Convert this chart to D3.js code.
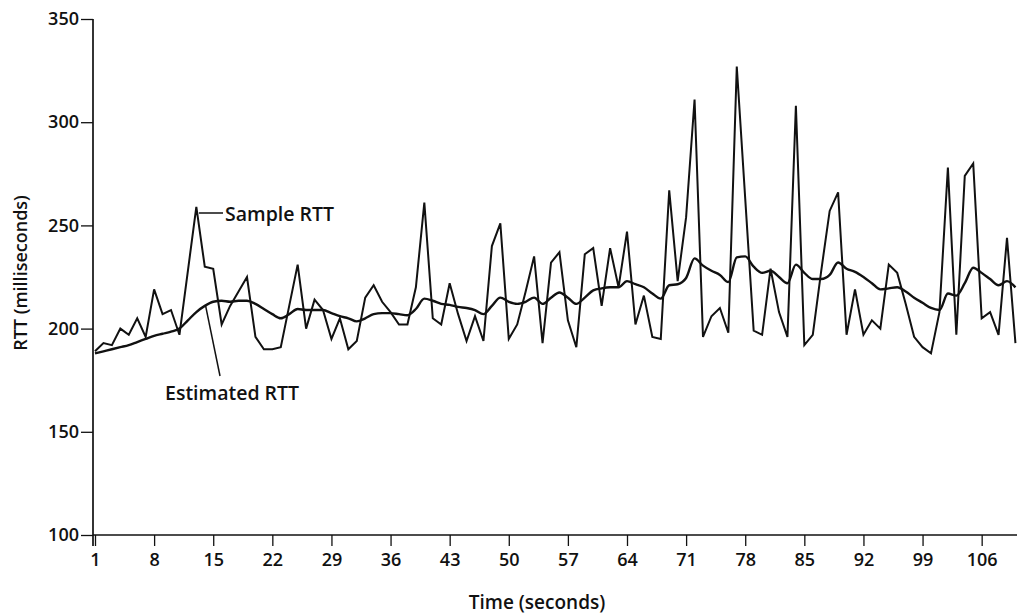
<!DOCTYPE html>
<html>
<head>
<meta charset="utf-8">
<script src="https://cdn.jsdelivr.net/npm/d3@7"></script>
<style>
  html, body { margin: 0; padding: 0; background: #fff; }
  svg text { font-family: "Open Sans", "DejaVu Sans", sans-serif; fill: #111; }
</style>
</head>
<body>
<svg id="chart" width="1017" height="614"></svg>
<script>
// Sample RTT (ms), one reading per second starting at t = 1
const sampleRTT = [
  189, 193, 192, 200, 197, 205, 196, 219, 207, 209,
  197, 228, 259, 230, 229, 202, 211, 218, 225, 196,
  190, 190, 191, 211, 231, 200, 214, 209, 195, 205,
  190, 194, 215, 221, 213, 208, 202, 202, 220, 261,
  205, 202, 222, 207, 194, 206, 194, 240, 251, 195,
  202, 218, 235, 193, 232, 237, 204, 191, 236, 239,
  211, 239, 220, 247, 202, 216, 196, 195, 267, 223,
  254, 311, 196, 206, 210, 198, 327, 263, 199, 197,
  229, 208, 196, 308, 192, 197, 228, 257, 266, 197,
  219, 197, 204, 200, 231, 227, 212, 196, 191, 188,
  208, 278, 197, 274, 280, 205, 208, 197, 244, 193
];
// Estimated RTT (ms), read at the same seconds
const estimatedRTT = [
  188, 189, 190, 191, 192, 193.5, 195, 196.5, 197.5, 198.5,
  200, 204, 208, 211, 213, 213.5, 213, 213.5, 213.5, 212,
  209.5, 207, 205, 207, 209.5, 209, 209, 209, 207.5, 206,
  205, 203.5, 205, 207, 207.5, 207.5, 207, 206.5, 209.5, 214.5,
  213.5, 212, 211.5, 210.5, 210, 209, 207, 211, 215, 213,
  212, 213, 215, 212, 215, 217.5, 215, 212, 215, 218.5,
  219.5, 220, 220, 223, 221.5, 220, 217, 214.5, 221, 221.5,
  224.5, 234, 230.5, 228, 226, 222.5, 234.5, 235, 230, 227,
  228, 225, 222, 231, 227, 224, 224, 226, 232, 229,
  227.5, 225, 222, 219, 219.5, 220, 218, 215, 212.5, 210,
  209, 217, 216, 222, 229.5, 227, 224, 221, 223, 220
];
const xTickValues = [1, 8, 15, 22, 29, 36, 43, 50, 57, 64, 71, 78, 85, 92, 99, 106];
const yTickValues = [100, 150, 200, 250, 300, 350];
const xTitle = "Time (seconds)";
const yTitle = "RTT (milliseconds)";
const sampleLabel = "Sample RTT";
const estimatedLabel = "Estimated RTT";

const svg = d3.select("#chart");
const x = d3.scaleLinear().domain([1, 109]).range([95, 1007]);
const y = d3.scaleLinear().domain([100, 350]).range([535, 19]);

// axes
const xAxis = d3.axisBottom(x).tickValues(xTickValues).tickSize(11).tickPadding(7).tickSizeOuter(0);
const gx = svg.append("g").attr("transform", "translate(0,535)").call(xAxis);
gx.select(".domain").remove();
gx.append("line").attr("x1", 93).attr("x2", 1017).attr("y1", 0).attr("y2", 0)
  .attr("stroke", "#111").attr("stroke-width", 1.7);
gx.selectAll(".tick line").attr("stroke", "#111").attr("stroke-width", 1.3);
gx.selectAll(".tick text").attr("font-size", 18).attr("font-weight", 600).attr("dy", "0.72em");

const yAxis = d3.axisLeft(y).tickValues(yTickValues).tickSize(12).tickPadding(2).tickSizeOuter(0);
const gy = svg.append("g").attr("transform", "translate(93,0)").call(yAxis);
gy.select(".domain").remove();
gy.append("line").attr("x1", 0).attr("x2", 0).attr("y1", 19).attr("y2", 546)
  .attr("stroke", "#111").attr("stroke-width", 1.7);
gy.selectAll(".tick line").attr("stroke", "#111").attr("stroke-width", 1.3);
gy.selectAll(".tick text").attr("font-size", 18).attr("font-weight", 600);

// titles
svg.append("text").attr("x", 537).attr("y", 609).attr("text-anchor", "middle")
  .attr("font-size", 19).attr("font-weight", 600).text(xTitle);
svg.append("text").attr("transform", "translate(27,273) rotate(-90)").attr("text-anchor", "middle")
  .attr("font-size", 18).attr("font-weight", 600).text(yTitle);

// lines
svg.append("clipPath").attr("id", "plotclip")
  .append("rect").attr("x", 94).attr("y", 0).attr("width", 923).attr("height", 540);

const line = d3.line().x((d, i) => x(i + 1)).y(d => y(d));
svg.append("path").datum(sampleRTT).attr("clip-path", "url(#plotclip)")
  .attr("d", line).attr("fill", "none").attr("stroke", "#111")
  .attr("stroke-width", 2).attr("stroke-linejoin", "miter");
svg.append("path").datum(estimatedRTT).attr("clip-path", "url(#plotclip)")
  .attr("d", line.curve(d3.curveMonotoneX)).attr("fill", "none").attr("stroke", "#111")
  .attr("stroke-width", 2.4);

// annotations
svg.append("line").attr("x1", x(13.3)).attr("y1", 213).attr("x2", 223).attr("y2", 213)
  .attr("stroke", "#111").attr("stroke-width", 1.5);
svg.append("text").attr("x", 225).attr("y", 221).attr("font-size", 19.5).attr("font-weight", 600).text(sampleLabel);
svg.append("line").attr("x1", x(14.1)).attr("y1", y(211)).attr("x2", 220).attr("y2", 376)
  .attr("stroke", "#111").attr("stroke-width", 1.5);
svg.append("text").attr("x", 165).attr("y", 400).attr("font-size", 19.5).attr("font-weight", 600).text(estimatedLabel);
</script>
</body>
</html>
